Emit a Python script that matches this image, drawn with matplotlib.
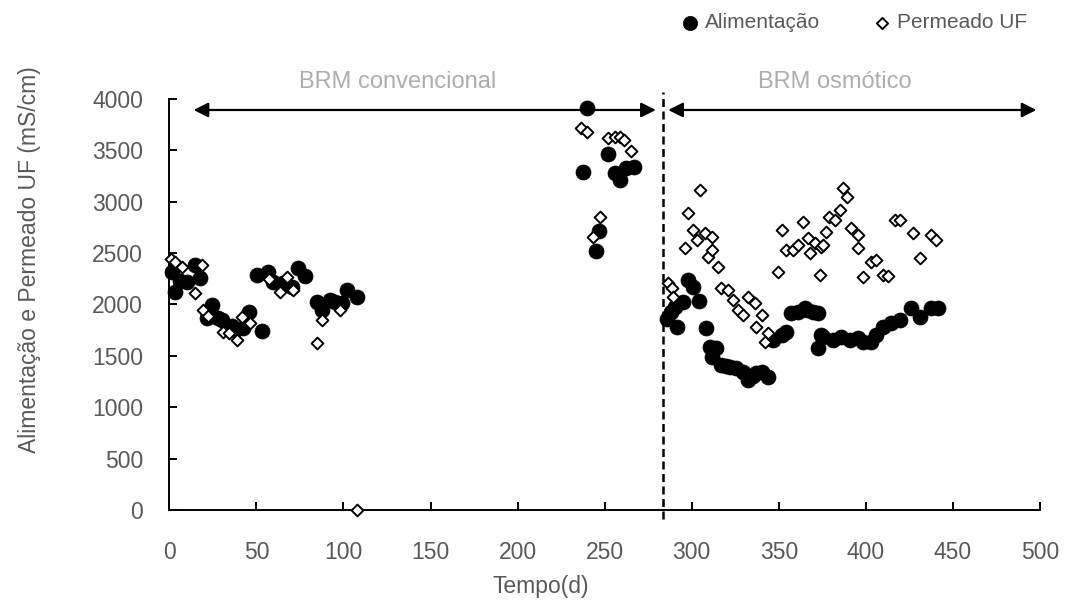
import matplotlib.pyplot as plt

plt.rcParams['font.family'] = ['Liberation Sans', 'DejaVu Sans']

# Alimentação (filled circles)
t_alim = [1.4, 3.3, 6, 10, 14.8, 17.6, 21.5, 24.3, 28, 30.1, 33.9, 36, 37.7, 42.5, 45.9,
          50.2, 53, 56.8, 59.7, 65.4, 70.3, 74, 77.9, 84.6, 87.5, 92.3, 95.1, 99, 101.8, 107.6,
          237.7, 240, 244.8, 246.8, 252, 255.9, 258.7, 262.2, 266.8,
          286, 288, 290.3, 291.3, 295, 297.9, 300.8, 304, 308.1, 310.4, 311.4, 314.2, 317.1,
          319.5, 321.9, 325.7, 329.5, 332.4, 335, 337.2, 340.1, 343.9, 346.7, 351.6, 354.4,
          357.3, 361.1, 364.9, 366, 369.7, 372.6, 372.6, 374.5, 375.4, 381.2, 386, 390.8,
          395.5, 398.4, 403.2, 406.1, 409.9, 414.7, 419.5, 426.2, 430.9, 437.6, 441.5]
v_alim = [2319, 2125, 2230, 2222, 2384, 2255, 1866, 1995, 1870, 1849, 1768, 1790, 1752, 1768, 1930,
          2287, 1745, 2313, 2222, 2206, 2173, 2352, 2277, 2027, 1946, 2044, 2027, 2012, 2141, 2070,
          3293, 3909, 2524, 2718, 3465, 3277, 3212, 3326, 3341,
          1860, 1930, 1979, 1784, 2027, 2238, 2173, 2030, 1768, 1589, 1492, 1573, 1411,
          1400, 1395, 1379, 1346, 1265, 1300, 1330, 1346, 1297, 1654, 1703, 1735,
          1914, 1930, 1963, 1946, 1930, 1914, 1573, 1703, 1687, 1654, 1687, 1654,
          1671, 1638, 1638, 1703, 1784, 1817, 1849, 1963, 1881, 1963, 1963]

# Permeado UF (open diamonds)
t_perm = [1, 3.3, 7.1, 14.8, 18.6, 19.5, 22, 31, 34, 38.7, 41.6, 46.3, 57, 63.5, 67.4, 71.2,
          84.6, 87.5, 98, 107.6,
          236.7, 239.6, 243.4, 247.2, 252, 255.9, 258.7, 261, 265.4,
          286.5, 288.4, 289.3, 296, 297.9, 300.8, 302.8, 304.6, 307.5, 309.4, 311.4, 311.4,
          315.2, 317.1, 320.9, 323.8, 326.6, 329.5, 332.4, 336.2, 337.2, 340.1, 342, 343.9,
          349.6, 351.6, 354.4, 358.2, 361.1, 363.9, 366.8, 367.8, 370.7, 373.5, 374.5, 375.4,
          377.4, 379, 382.1, 385, 386.9, 388.9, 391.7, 395.5, 395.5, 398.4, 403.2, 406.1,
          409.9, 412.8, 416.6, 419.5, 427.1, 430.9, 437.6, 440.5]
v_perm = [2440, 2417, 2368, 2109, 2384, 1946, 1890, 1735, 1720, 1654, 1881, 1817, 2250, 2125, 2271, 2141,
          1622, 1849, 1946, 0,
          3715, 3682, 2660, 2855, 3617, 3627, 3627, 3601, 3494,
          2206, 2158, 2076, 2547, 2888, 2725, 2628, 3114, 2693, 2465, 2660, 2530,
          2368, 2158, 2141, 2044, 1946, 1898, 2076, 2012, 1784, 1898, 1638, 1719,
          2319, 2725, 2530, 2530, 2579, 2806, 2644, 2498, 2598, 2287, 2563, 2579,
          2709, 2855, 2822, 2920, 3131, 3049, 2742, 2677, 2547, 2271, 2417, 2433,
          2287, 2277, 2822, 2822, 2693, 2450, 2677, 2628]

xticks = [0, 50, 100, 150, 200, 250, 300, 350, 400, 450, 500]
yticks = [0, 500, 1000, 1500, 2000, 2500, 3000, 3500, 4000]

grey = '#595959'

fig = plt.figure(figsize=(10.65, 6.01), dpi=100)
ax = fig.add_axes([0.159, 0.1514, 0.8175, 0.6839])

ax.scatter(t_alim, v_alim, s=117, marker='o', c='black', edgecolors='black', lw=0.5,
           label='Alimentação', zorder=3, clip_on=False)
ax.scatter(t_perm, v_perm, s=36, marker='D', facecolors='white', edgecolors='black', lw=1.4,
           label='Permeado UF', zorder=4, clip_on=False)

ax.set_xlim(0, 500)
ax.set_ylim(0, 4000)
ax.set_xticks(xticks)
ax.set_yticks(yticks)
for s in ['top', 'right']:
    ax.spines[s].set_visible(False)
for s in ['left', 'bottom']:
    ax.spines[s].set_linewidth(1.4)
ax.tick_params(direction='in', length=6, width=1.4, labelsize=16.5, labelcolor=grey)
ax.tick_params(axis='x', pad=22.5)
ax.tick_params(axis='y', pad=19)

ax.set_xlabel('Tempo(d)', fontsize=16.5, color=grey, va='center')
ax.xaxis.set_label_coords(0.427, -0.187)
ax.set_ylabel('Alimentação e Permeado UF (mS/cm)', fontsize=16.5, color=grey, va='center')
ax.yaxis.set_label_coords(-0.161, 0.608)

# divisao entre fases
ax.plot([283.5, 283.5], [-90, 4070], color='black', lw=1.8, ls=(0, (3.2, 1.8)), clip_on=False, zorder=2)

arrow = dict(arrowstyle='<|-|>', color='black', lw=1.6, mutation_scale=22, shrinkA=0, shrinkB=0)
ax.annotate('', xy=(13.9, 3893), xytext=(279.4, 3893), arrowprops=arrow, annotation_clip=False)
ax.annotate('', xy=(286.5, 3893), xytext=(498, 3893), arrowprops=arrow, annotation_clip=False)
ax.text(131, 4165, 'BRM convencional', ha='center', va='center', fontsize=17, color='#ADADAD', clip_on=False)
ax.text(382, 4165, 'BRM osmótico', ha='center', va='center', fontsize=17, color='#ADADAD', clip_on=False)

fig.legend(loc='upper right', bbox_to_anchor=(0.9645, 0.978), ncol=2, frameon=False, fontsize=15,
           borderpad=0, borderaxespad=0, handlelength=1.0, handletextpad=0.22,
           columnspacing=2.48, labelcolor=grey, markerscale=0.95)

fig.savefig('out.png', dpi=100)
